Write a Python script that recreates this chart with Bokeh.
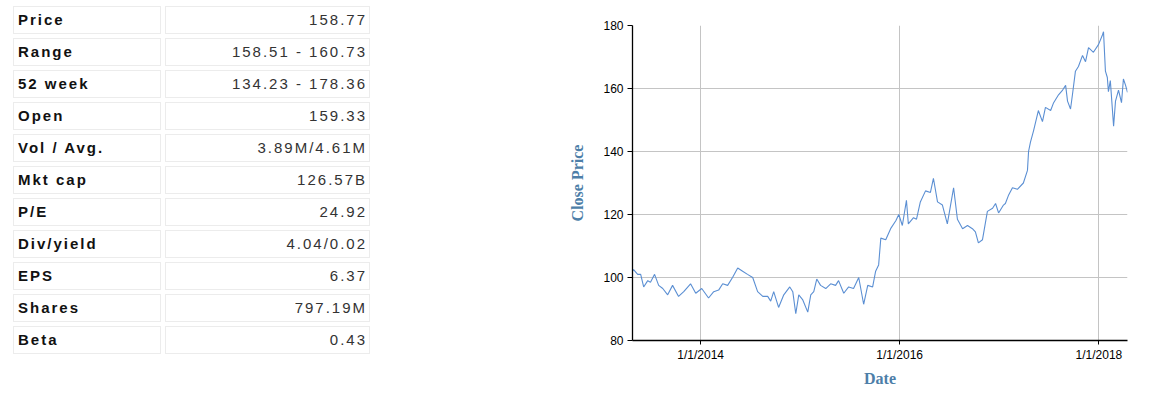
import pandas as pd
from bokeh.plotting import figure
from bokeh.models import Div, Range1d, FixedTicker, DatetimeTickFormatter, ColumnDataSource
from bokeh.layouts import row
from bokeh.embed import file_html
from bokeh.resources import INLINE

# ---- table data ----
stat_labels = ["Price", "Range", "52 week", "Open", "Vol / Avg.", "Mkt cap",
               "P/E", "Div/yield", "EPS", "Shares", "Beta"]
stat_values = ["158.77", "158.51 - 160.73", "134.23 - 178.36", "159.33",
               "3.89M/4.61M", "126.57B", "24.92", "4.04/0.02", "6.37",
               "797.19M", "0.43"]

# ---- chart data ----
dates = [
    "2013-04-26", "2013-04-30", "2013-05-15", "2013-05-26", "2013-06-06", "2013-06-21",
    "2013-07-01", "2013-07-16", "2013-07-31", "2013-08-15", "2013-09-02", "2013-09-20",
    "2013-10-12", "2013-10-31", "2013-11-25", "2013-12-14", "2014-01-05", "2014-01-30",
    "2014-02-18", "2014-03-08", "2014-03-23", "2014-04-10", "2014-04-28", "2014-05-17",
    "2014-06-04", "2014-06-22", "2014-07-11", "2014-07-29", "2014-08-17", "2014-09-04",
    "2014-09-15", "2014-09-26", "2014-10-14", "2014-11-02", "2014-11-24", "2014-12-05",
    "2014-12-16", "2014-12-27", "2015-01-10", "2015-01-29", "2015-02-09", "2015-02-20",
    "2015-03-03", "2015-03-17", "2015-04-05", "2015-04-23", "2015-05-11", "2015-05-22",
    "2015-06-10", "2015-06-28", "2015-07-16", "2015-08-04", "2015-08-22", "2015-09-06",
    "2015-09-24", "2015-10-05", "2015-10-16", "2015-10-24", "2015-11-11", "2015-11-29",
    "2015-12-18", "2015-12-29", "2016-01-11", "2016-01-26", "2016-02-02", "2016-02-21",
    "2016-03-03", "2016-03-17", "2016-04-05", "2016-04-23", "2016-05-04", "2016-05-19",
    "2016-06-06", "2016-06-24", "2016-07-05", "2016-07-17", "2016-07-31", "2016-08-19",
    "2016-09-06", "2016-09-24", "2016-10-05", "2016-10-16", "2016-10-31", "2016-11-18",
    "2016-12-07", "2016-12-18", "2016-12-29", "2017-01-16", "2017-01-23", "2017-02-03",
    "2017-02-18", "2017-03-08", "2017-03-30", "2017-04-14", "2017-04-18", "2017-04-25",
    "2017-05-06", "2017-05-24", "2017-06-08", "2017-06-19", "2017-07-08", "2017-07-19",
    "2017-08-06", "2017-08-21", "2017-09-01", "2017-09-08", "2017-09-19", "2017-09-26",
    "2017-10-07", "2017-10-18", "2017-11-02", "2017-11-13", "2017-11-24", "2017-12-12",
    "2017-12-31", "2018-01-14", "2018-01-18", "2018-01-25", "2018-02-01", "2018-02-05",
    "2018-02-12", "2018-02-24", "2018-03-03", "2018-03-14", "2018-03-25", "2018-04-01",
    "2018-04-09", "2018-04-16",
]
close = [
    102.0, 102.5, 101.0, 101.0, 97.0, 99.0,
    98.5, 101.0, 97.5, 96.5, 94.5, 97.5,
    94.0, 95.5, 98.0, 95.0, 96.5, 93.5,
    95.5, 96.0, 98.0, 97.5, 100.0, 103.0,
    102.0, 101.0, 100.0, 95.5, 94.0, 94.0,
    92.5, 95.5, 90.5, 94.5, 97.0, 95.5,
    88.5, 94.5, 93.0, 89.0, 94.5, 95.5,
    99.5, 97.5, 96.5, 98.0, 97.5, 99.0,
    95.0, 97.0, 96.5, 100.0, 91.5, 97.5,
    97.0, 102.0, 104.0, 112.5, 112.0, 115.5,
    118.0, 120.0, 116.5, 124.5, 117.0, 119.0,
    118.5, 124.0, 127.5, 127.0, 131.5, 124.0,
    123.0, 117.0, 122.5, 128.5, 118.5, 115.5,
    116.5, 115.5, 114.5, 111.0, 112.0, 121.0,
    122.0, 123.5, 120.5, 123.0, 123.5, 126.0,
    128.5, 128.0, 130.0, 134.0, 140.0, 143.0,
    146.5, 153.0, 149.5, 154.0, 153.0, 155.5,
    158.0, 159.5, 161.0, 156.0, 153.5, 158.0,
    165.5, 167.0, 170.5, 168.5, 173.0, 171.5,
    174.0, 177.0, 178.0, 165.5, 163.5, 159.0,
    162.5, 148.0, 156.0, 159.5, 155.5, 163.0,
    161.0, 158.77,
]
y_ticks = [80, 100, 120, 140, 160, 180]
x_tick_dates = ["2014-01-01", "2016-01-01", "2018-01-01"]
x_tick_labels = ["1/1/2014", "1/1/2016", "1/1/2018"]

# ---- table as HTML ----
cell_base = ("border:1px solid #ececec;height:28px;box-sizing:border-box;font-size:15px;"
             "letter-spacing:2px;white-space:nowrap;vertical-align:middle;")
rows_html = []
for lab, val in zip(stat_labels, stat_values):
    rows_html.append(
        "<tr>"
        f"<td style='{cell_base}width:148px;padding:0 4px;font-weight:bold;color:#111;text-align:left;'>{lab}</td>"
        f"<td style='{cell_base}width:205px;padding:0 2px 0 4px;color:#333;text-align:right;'>{val}</td>"
        "</tr>"
    )
html = (
    "<table style=\"border-collapse:separate;border-spacing:4px;margin:2px 0 0 9px;"
    "font-family:'Liberation Sans',Arial,sans-serif;\">" + "".join(rows_html) + "</table>"
)
div = Div(text=html, width=560, height=398, styles={"margin": "0", "padding": "0"})

# ---- chart ----
src = ColumnDataSource(dict(date=pd.to_datetime(dates), close=close))
p = figure(width=603, height=398, x_axis_type="datetime", output_backend="svg",
           toolbar_location=None, min_border_left=72, min_border_right=36,
           min_border_top=25, min_border_bottom=58)
p.x_range = Range1d(pd.Timestamp(dates[0]), pd.Timestamp(dates[-1]))
p.y_range = Range1d(y_ticks[0], y_ticks[-1])
p.line("date", "close", source=src, line_color="#5b8fd3", line_width=1.1)

tick_ms = [float(pd.Timestamp(d).value // 10**6) for d in x_tick_dates]
p.xaxis.ticker = FixedTicker(ticks=tick_ms)
p.xaxis.formatter = DatetimeTickFormatter(years="%m/%d/%Y", months="%m/%d/%Y", days="%m/%d/%Y")
p.xaxis.major_label_overrides = {t: l for t, l in zip(tick_ms, x_tick_labels)}
p.yaxis.ticker = FixedTicker(ticks=y_ticks)

p.outline_line_color = None
p.background_fill_color = "white"
p.border_fill_color = "white"
for ax in (p.xaxis[0], p.yaxis[0]):
    ax.axis_line_color = "black"
    ax.axis_line_width = 1.3
    ax.major_tick_line_color = "black"
    ax.major_tick_in = 0
    ax.minor_tick_line_color = None
    ax.major_label_text_font = "Liberation Sans"
    ax.major_label_text_font_size = "12px"
    ax.major_label_text_color = "black"
    ax.axis_label_text_font = "Liberation Serif"
    ax.axis_label_text_font_style = "bold"
    ax.axis_label_text_font_size = "16px"
    ax.axis_label_text_color = "#4d7ea8"
p.yaxis.major_tick_out = 5
p.xaxis.major_tick_out = 4
p.yaxis.major_label_standoff = 4
p.xaxis.major_label_standoff = 3
p.yaxis.axis_label = "Close Price"
p.xaxis.axis_label = "Date"
p.yaxis.axis_label_standoff = 14
p.xaxis.axis_label_standoff = 5
p.grid.grid_line_color = "#c4c4c4"
p.grid.grid_line_width = 1

layout = row(div, p)
open("out.html", "w").write(file_html(layout, INLINE))
